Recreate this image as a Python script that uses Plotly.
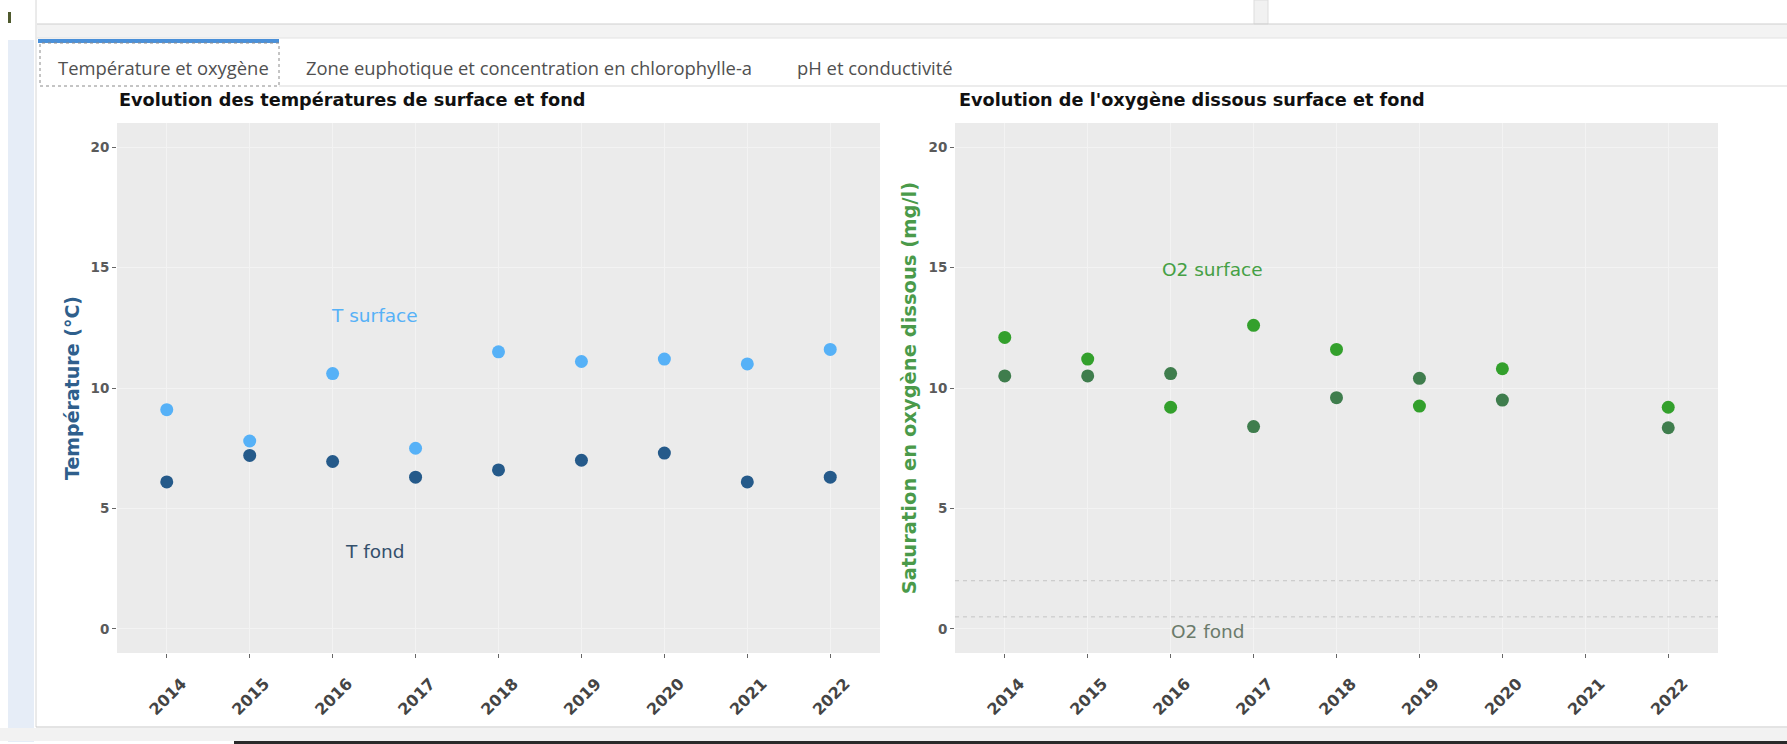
import plotly.graph_objects as go

# ---------------- data ----------------
annees = [2014, 2015, 2016, 2017, 2018, 2019, 2020, 2021, 2022]
t_surface = [9.1, 7.8, 10.6, 7.5, 11.5, 11.1, 11.2, 11.0, 11.6]
t_fond = [6.1, 7.2, 6.95, 6.3, 6.6, 7.0, 7.3, 6.1, 6.3]

annees_o2 = [2014, 2015, 2016, 2017, 2018, 2019, 2020, 2022]
o2_surface = [12.1, 11.2, 9.2, 12.6, 11.6, 9.25, 10.8, 9.2]
o2_fond = [10.5, 10.5, 10.6, 8.4, 9.6, 10.4, 9.5, 8.35]

seuils_o2 = [2, 0.5]
y_ticks = [0, 5, 10, 15, 20]
tab_labels = ["Température et oxygène",
              "Zone euphotique et concentration en chlorophylle-a",
              "pH et conductivité"]

# ---------------- geometry helpers ----------------
W, H = 1787, 744
def px(x):
    return x / W
def py(y):
    return 1 - y / H

C_TS = "#56B1F7"
C_TF = "#255a8a"
C_OS = "#33a02c"
C_OF = "#3f7d4d"

fig = go.Figure()
fig.add_trace(go.Scatter(x=annees, y=t_surface, mode="markers", name="T surface",
                         marker=dict(color=C_TS, size=13), xaxis="x", yaxis="y"))
fig.add_trace(go.Scatter(x=annees, y=t_fond, mode="markers", name="T fond",
                         marker=dict(color=C_TF, size=13), xaxis="x", yaxis="y"))
fig.add_trace(go.Scatter(x=annees_o2, y=o2_fond, mode="markers", name="O2 fond",
                         marker=dict(color=C_OF, size=13), xaxis="x2", yaxis="y2"))
fig.add_trace(go.Scatter(x=annees_o2, y=o2_surface, mode="markers", name="O2 surface",
                         marker=dict(color=C_OS, size=13), xaxis="x2", yaxis="y2"))

tickfont_x = dict(family="DejaVu Sans", size=16, color="#444444", weight="bold")
tickfont_y = dict(family="DejaVu Sans", size=13.5, color="#5a5a5a", weight="bold")

xcommon = dict(range=[2013.4, 2022.6], tickvals=annees, ticktext=[str(a) for a in annees],
               tickangle=-45, tickfont=tickfont_x, ticks="outside", ticklen=4,
               tickcolor="#666666", showgrid=True, gridcolor="#f3f3f3", gridwidth=1,
               zeroline=False, showline=False, ticklabelstandoff=10, ticklabelshift=15)
ycommon = dict(range=[-1, 21], tickvals=y_ticks, tickfont=tickfont_y, ticks="outside",
               ticklen=4, tickcolor="#666666", showgrid=True, gridcolor="#f3f3f3",
               gridwidth=1, zeroline=False, showline=False)

ybot, ytop = py(653), py(123)
fig.update_layout(
    width=W, height=H, margin=dict(l=0, r=0, t=0, b=0),
    paper_bgcolor="white", plot_bgcolor="#ebebeb", showlegend=False,
    xaxis=dict(domain=[px(117), px(880)], anchor="y", **xcommon),
    yaxis=dict(domain=[ybot, ytop], anchor="x",
               title=dict(text="Température (°C)", standoff=5,
                          font=dict(family="DejaVu Sans", size=19, color="#2f5f8c", weight="bold")),
               **ycommon),
    xaxis2=dict(domain=[px(955), px(1718)], anchor="y2", **xcommon),
    yaxis2=dict(domain=[ybot, ytop], anchor="x2",
                title=dict(text="Saturation en oxygène dissous (mg/l)", standoff=6,
                           font=dict(family="DejaVu Sans", size=19.5, color="#4a9a4a", weight="bold")),
                **ycommon),
)

# reference dashed lines for oxygen
for s in seuils_o2:
    fig.add_shape(type="line", xref="x2 domain", yref="y2", x0=0, x1=1, y0=s, y1=s,
                  line=dict(color="#c4c4c4", width=1, dash="4px,4px"))

# in-plot labels
ann_font = "DejaVu Sans"
fig.add_annotation(x=2016.5, y=13, xref="x", yref="y", text="T surface", showarrow=False,
                   font=dict(family=ann_font, size=18.5, color=C_TS))
fig.add_annotation(x=2016.5, y=3.2, xref="x", yref="y", text="T fond", showarrow=False,
                   font=dict(family=ann_font, size=18.5, color="#34506b"))
fig.add_annotation(x=2016.5, y=14.9, xref="x2", yref="y2", text="O2 surface", showarrow=False,
                   font=dict(family=ann_font, size=18.5, color="#45a045"))
fig.add_annotation(x=2016.45, y=-0.1, xref="x2", yref="y2", text="O2 fond", showarrow=False,
                   font=dict(family=ann_font, size=18.5, color="#6b7b6b"))

# chart titles
fig.add_annotation(x=px(117), y=py(100), xref="paper", yref="paper", xanchor="left",
                   yanchor="middle", showarrow=False,
                   text="Evolution des températures de surface et fond",
                   font=dict(family="DejaVu Sans", size=17.7, color="#111111", weight="bold"))
fig.add_annotation(x=px(957), y=py(100), xref="paper", yref="paper", xanchor="left",
                   yanchor="middle", showarrow=False,
                   text="Evolution de l'oxygène dissous surface et fond",
                   font=dict(family="DejaVu Sans", size=17.7, color="#111111", weight="bold"))

# ---------------- page chrome (tabs, frame) ----------------
def rect(x0, y0, x1, y1, fill=None, line=None, width=1, dash=None):
    fig.add_shape(type="rect", xref="paper", yref="paper", x0=px(x0), x1=px(x1),
                  y0=py(y1), y1=py(y0), fillcolor=fill or "rgba(0,0,0,0)",
                  line=dict(color=line or "rgba(0,0,0,0)", width=width if line else 0,
                            dash=dash), layer="below")

def hline(x0, x1, y, color, width=1, dash=None):
    fig.add_shape(type="line", xref="paper", yref="paper", x0=px(x0), x1=px(x1),
                  y0=py(y), y1=py(y), line=dict(color=color, width=width, dash=dash))

def vline(x, y0, y1, color, width=1, dash=None):
    fig.add_shape(type="line", xref="paper", yref="paper", x0=px(x), x1=px(x),
                  y0=py(y0), y1=py(y1), line=dict(color=color, width=width, dash=dash))

# top band
rect(37, 24, W, 38, fill="#f3f3f3")
hline(37, W, 24, "#cfcfcf")
hline(37, W, 38, "#e2e2e2")
rect(1254, 0, 1268, 24, fill="#f1f1f1", line="#dddddd")
# left strip
rect(8, 40, 34, 742, fill="#e6edf7")
vline(36, 0, 727, "#d6d6d6")
rect(8, 12, 11, 23, fill="#4f5a2e")
# bottom
hline(36, W, 727, "#c8c8c8")
rect(0, 728, W, 741, fill="#f2f2f2")
rect(234, 741, W, 744, fill="#2a2a2a")

# tabs
rect(38, 39, 279, 43, fill="#4a90d9")
rect(40, 43, 279, 86, line="#8a8a8a", width=1, dash="dot")
hline(279, W, 86, "#d9d9d9")
tab_x = [56, 304, 795]
for lbl, x in zip(tab_labels, tab_x):
    fig.add_annotation(x=px(x), y=py(67), xref="paper", yref="paper", xanchor="left",
                       yanchor="middle", showarrow=False, text=lbl,
                       font=dict(family="Open Sans", size=18.4, color="#505050"))

fig.write_html("out.html", config={"displayModeBar": False},
               post_script="document.body.style.margin='0';document.body.style.overflow='hidden';")
